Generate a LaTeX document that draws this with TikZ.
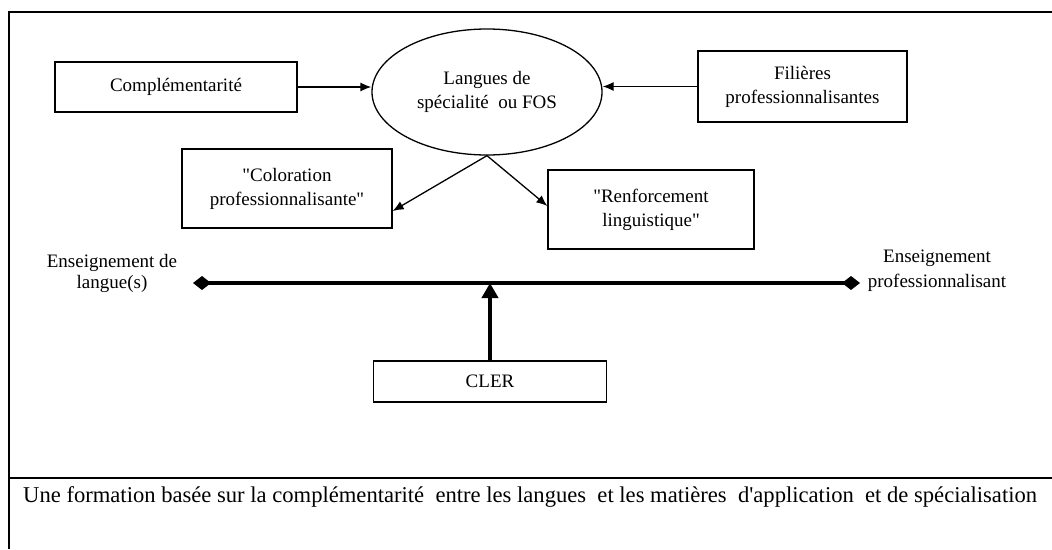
\documentclass[tikz,border=0pt]{standalone}
\usepackage{fontspec}
\setmainfont[Ligatures=TeXOff]{Liberation Serif}
\usetikzlibrary{shapes.geometric,arrows.meta}

\begin{document}
\begin{tikzpicture}[x=1pt,y=-1pt,
        box/.style={draw=black,line width=1.3pt,align=center,
            font=\fontsize{19}{24}\selectfont},
        lbl/.style={align=center,inner sep=0pt,font=\fontsize{19}{21}\selectfont},
        arr/.style={line width=1.3pt,-{Latex[length=11pt,width=9pt]}},
        axis/.style={line width=4pt,{Diamond[length=18pt,width=14pt]}-{Diamond[length=18pt,width=14pt]}},
        up/.style={line width=4pt,-{Triangle[length=15pt,width=16pt]}}]
    \useasboundingbox (0,0) rectangle (1052,549);

    % frame of the table
    \draw[line width=1.5pt] (9,549) -- (9,12) -- (1052,12);
    \draw[line width=1.3pt] (9,478) -- (1052,478);

    \node[box,minimum width=242pt,minimum height=50pt] (compl) at (176,87) {Complémentarité};
    \node[box,ellipse,minimum width=230pt,minimum height=126pt] (fos) at (487,92)
        {Langues de\\spécialité \ ou FOS};
    \node[box,minimum width=209pt,minimum height=71pt] (fil) at (802.5,86.5)
        {Filières\\professionnalisantes};
    \node[box,minimum width=210pt,minimum height=79pt] (color) at (287,188.5)
        {"Coloration\\professionnalisante"};
    \node[box,minimum width=206pt,minimum height=79pt] (renf) at (651,209.5)
        {"Renforcement\\linguistique"};
    \node[box,minimum width=233pt,minimum height=41pt] (cler) at (490,381.5) {CLER};

    \node[lbl] (ensl) at (112,273.5) {Enseignement de\\langue(s)};
    \node[lbl,font=\fontsize{19}{25}\selectfont] (ensp) at (937,270.5)
        {Enseignement\\professionnalisant};
    \coordinate (al) at (193,283);
    \coordinate (ar) at (860,283);

    \node[anchor=west,inner sep=0pt,font=\fontsize{22.6}{26}\selectfont] (capt) at (23,497)
        {Une formation basée sur la complémentarité \ entre les langues \ et les matières \ d'application \ et de spécialisation};

    \draw[arr] (compl.east) -- (compl.east -| fos.west);
    \draw[arr] (fil.west) -- (fil.west -| fos.east);
    \draw[arr] (fos.south) -- ([yshift=-22.5pt]color.east);
    \draw[arr] (fos.south) -- ([yshift=3.5pt]renf.west);

    \draw[axis] (al) -- (ar);
    \draw[up] (cler.north) -- (cler.north |- al);

\end{tikzpicture}
\end{document}
